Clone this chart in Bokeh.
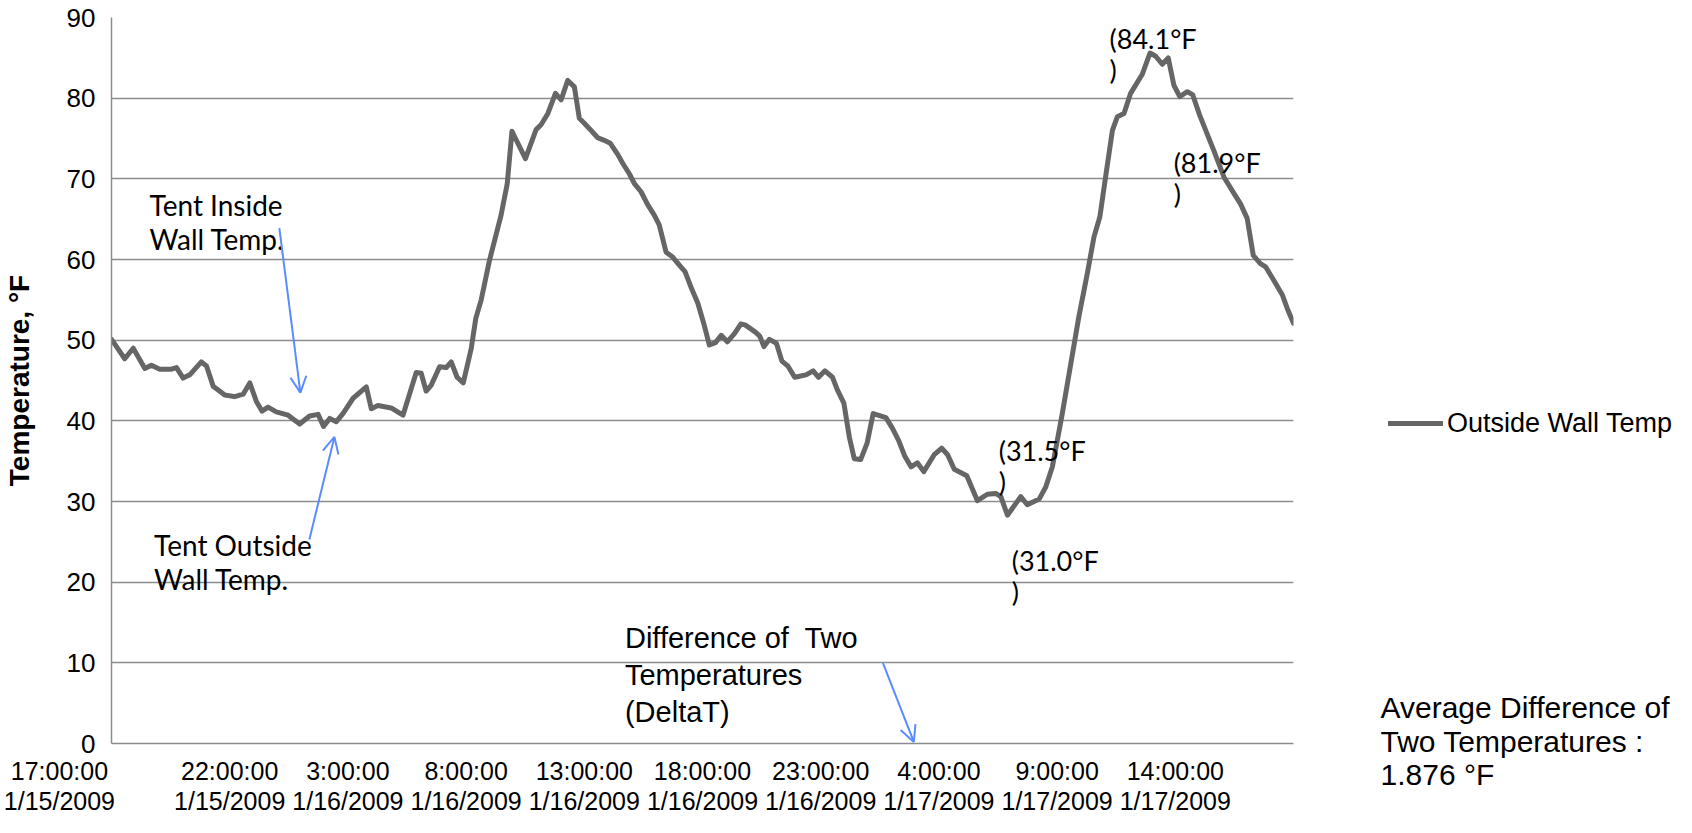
from bokeh.plotting import figure
from bokeh.layouts import row
from bokeh.models import (ColumnDataSource, Range1d, FixedTicker, Label, Arrow,
                          OpenHead, Legend, LegendItem)
from bokeh.embed import file_html
from bokeh.resources import INLINE

# ---------------- data ----------------
start_time = "2009-01-15 17:00:00"
hours_after_start = [
    0.00, 0.56, 0.92, 1.41, 1.69, 2.04, 2.54, 2.75, 3.03, 3.31,
    3.80, 4.02, 4.30, 4.79, 5.21, 5.57, 5.85, 6.13, 6.37, 6.62,
    6.97, 7.47, 7.96, 8.38, 8.74, 8.97, 9.23, 9.51, 9.79, 10.22,
    10.78, 10.99, 11.27, 11.83, 12.33, 12.89, 13.10, 13.31, 13.52, 13.88,
    14.16, 14.37, 14.62, 14.88, 15.22, 15.41, 15.64, 15.99, 16.48, 16.74,
    16.94, 17.51, 17.96, 18.17, 18.46, 18.78, 19.02, 19.30, 19.58, 19.79,
    20.00, 20.29, 20.57, 20.82, 21.10, 21.42, 21.63, 21.91, 22.12, 22.40,
    22.68, 22.96, 23.17, 23.46, 23.74, 24.02, 24.26, 24.51, 24.80, 25.05,
    25.29, 25.55, 25.79, 26.05, 26.35, 26.62, 26.80, 27.24, 27.42, 27.60,
    27.83, 28.13, 28.36, 28.61, 28.90, 29.38, 29.68, 29.91, 30.18, 30.50,
    30.71, 30.98, 31.21, 31.42, 31.69, 31.96, 32.22, 32.76, 33.03, 33.29,
    33.56, 33.82, 34.09, 34.36, 34.80, 35.12, 35.37, 35.65, 36.18, 36.63,
    37.05, 37.40, 37.62, 37.90, 38.46, 38.74, 39.24, 39.52, 39.80, 40.01,
    40.22, 40.92, 41.28, 41.56, 41.81, 42.05, 42.34, 42.55, 42.83, 43.11,
    43.61, 43.93, 44.17, 44.45, 44.70, 44.94, 45.19, 45.51, 45.74, 46.03,
    46.63, 47.06, 47.48, 47.76, 48.04, 48.30, 48.60, 48.82, 49.17, 49.53,
    49.74, 50.00,
]
outside_wall_temp_f = [
    50.1, 47.7, 49.0, 46.5, 46.9, 46.4, 46.4, 46.6, 45.3, 45.7,
    47.3, 46.8, 44.3, 43.2, 43.0, 43.3, 44.7, 42.4, 41.2, 41.7,
    41.1, 40.7, 39.6, 40.6, 40.8, 39.3, 40.3, 39.9, 40.9, 42.8,
    44.2, 41.5, 41.9, 41.6, 40.7, 46.0, 45.9, 43.7, 44.4, 46.7,
    46.6, 47.3, 45.4, 44.7, 49.0, 52.7, 55.0, 59.9, 65.5, 69.4,
    75.9, 72.5, 76.1, 76.7, 78.1, 80.6, 79.8, 82.2, 81.4, 77.5,
    76.9, 76.0, 75.1, 74.8, 74.4, 73.0, 71.9, 70.6, 69.4, 68.4,
    66.8, 65.5, 64.3, 60.9, 60.3, 59.3, 58.5, 56.6, 54.6, 52.1,
    49.4, 49.7, 50.6, 49.8, 50.8, 52.0, 51.9, 51.0, 50.5, 49.2,
    50.1, 49.6, 47.4, 46.8, 45.4, 45.7, 46.2, 45.4, 46.2, 45.4,
    43.8, 42.2, 38.0, 35.3, 35.2, 37.2, 40.9, 40.4, 39.1, 37.6,
    35.6, 34.3, 34.8, 33.7, 35.8, 36.6, 35.8, 34.0, 33.2, 30.1,
    30.9, 31.0, 30.6, 28.3, 30.6, 29.6, 30.3, 31.8, 34.3, 37.6,
    40.9, 52.9, 58.3, 62.8, 65.3, 70.2, 76.0, 77.7, 78.1, 80.6,
    83.0, 85.6, 85.2, 84.2, 85.0, 81.6, 80.2, 80.8, 80.4, 77.9,
    73.5, 70.2, 68.2, 66.9, 65.1, 60.5, 59.5, 59.1, 57.4, 55.6,
    53.9, 52.1,
]
series_name = "Outside Wall Temp"

tick_hours = [0, 5, 10, 15, 20, 25, 30, 35, 40, 45]
tick_times = ["17:00:00", "22:00:00", "3:00:00", "8:00:00", "13:00:00",
              "18:00:00", "23:00:00", "4:00:00", "9:00:00", "14:00:00"]
tick_dates = ["1/15/2009", "1/15/2009", "1/16/2009", "1/16/2009", "1/16/2009",
              "1/16/2009", "1/16/2009", "1/17/2009", "1/17/2009", "1/17/2009"]
y_ticks = [0, 10, 20, 30, 40, 50, 60, 70, 80, 90]
x_span_hours = 50

average_difference_text = ["Average Difference of", "Two Temperatures :", "1.876 \u00b0F"]

# ---------------- styling ----------------
LINE_COLOR = "#666666"
GRID_COLOR = "#8c8c8c"
BLUE = "#5a8cff"
ARIAL = "Liberation Sans"
CALIBRI = "Lato"
NBSP = "\u00a0"

W, H = 1676, 817
P_W = 1300            # main plot width; the rest holds legend + note
FRAME_L, FRAME_R, FRAME_T, FRAME_B = 110, 1293, 17, 752

p = figure(width=P_W, height=H, output_backend="svg", toolbar_location=None,
           x_range=Range1d(0, x_span_hours), y_range=Range1d(0, y_ticks[-1]),
           min_border_left=FRAME_L, min_border_right=P_W - FRAME_R,
           min_border_top=FRAME_T, min_border_bottom=H - FRAME_B)
p.outline_line_color = None
p.background_fill_color = "white"
p.border_fill_color = "white"

# grid
p.xgrid.grid_line_color = None
p.ygrid.ticker = FixedTicker(ticks=y_ticks)
p.ygrid.grid_line_color = GRID_COLOR
p.ygrid.grid_line_width = 1.5

# y axis
p.yaxis.ticker = FixedTicker(ticks=y_ticks)
p.yaxis.axis_line_color = GRID_COLOR
p.yaxis.axis_line_width = 1.5
p.yaxis.major_tick_line_color = None
p.yaxis.minor_tick_line_color = None
p.yaxis.major_tick_out = 0
p.yaxis.major_label_standoff = 16
p.yaxis.major_label_text_font = ARIAL
p.yaxis.major_label_text_font_size = "26px"
p.yaxis.major_label_text_color = "black"
p.yaxis.axis_label = "Temperature, \u00b0F"
p.yaxis.axis_label_text_font = ARIAL
p.yaxis.axis_label_text_font_style = "bold"
p.yaxis.axis_label_text_font_size = "28px"
p.yaxis.axis_label_text_color = "black"
p.yaxis.axis_label_standoff = 29

# x axis (first label is pushed left of the axis, as in the original)
p.xaxis.ticker = FixedTicker(ticks=tick_hours)
pad = NBSP * 15
overrides = {}
for i, (h, t, d) in enumerate(zip(tick_hours, tick_times, tick_dates)):
    overrides[h] = f"{t}{pad}\n{d}{pad}" if i == 0 else f"{t}\n{d}"
p.xaxis.major_label_overrides = overrides
p.xaxis.axis_line_color = GRID_COLOR
p.xaxis.axis_line_width = 1.5
p.xaxis.major_tick_line_color = None
p.xaxis.minor_tick_line_color = None
p.xaxis.major_tick_out = 0
p.xaxis.major_label_standoff = 13
p.xaxis.major_label_text_font = ARIAL
p.xaxis.major_label_text_font_size = "25px"
p.xaxis.major_label_text_line_height = 1.08
p.xaxis.major_label_text_color = "black"

# series
src = ColumnDataSource(dict(h=hours_after_start, t=outside_wall_temp_f))
r = p.line("h", "t", source=src, line_color=LINE_COLOR, line_width=5,
           line_join="round", line_cap="round")


def add_text(x, y, lines, font, size, gap):
    for i, line in enumerate(lines):
        p.add_layout(Label(x=x, y=y, x_units="data", y_units="data",
                           y_offset=-i * gap, text=line,
                           text_align="left", text_baseline="middle",
                           text_font=font, text_font_size=size,
                           text_color="black"))


add_text(1.61, 66.7, ["Tent Inside", "Wall Temp."], CALIBRI, "28px", 34)
add_text(1.80, 24.6, ["Tent Outside", "Wall Temp."], CALIBRI, "28px", 34)
add_text(21.72, 13.1, [f"Difference of{NBSP} Two", "Temperatures", "(DeltaT)"], ARIAL, "29px", 37)
add_text(37.53, 36.3, ["(31.5\u00b0F", ")"], CALIBRI, "27px", 31)
add_text(38.08, 22.7, ["(31.0\u00b0F", ")"], CALIBRI, "27px", 31)
add_text(42.22, 87.4, ["(84.1\u00b0F", ")"], CALIBRI, "27px", 31)
add_text(44.93, 72.0, ["(81.9\u00b0F", ")"], CALIBRI, "27px", 31)

# blue callout arrows
for xs, ys, xe, ye in [(7.10, 63.9, 7.99, 43.5),
                       (8.37, 25.3, 9.43, 38.0),
                       (32.63, 10.0, 33.94, 0.2)]:
    p.add_layout(Arrow(x_start=xs, y_start=ys, x_end=xe, y_end=ye,
                       line_color=BLUE, line_width=2,
                       end=OpenHead(size=16, line_color=BLUE, line_width=2)))

# ---------------- right-hand area: legend and note ----------------
S_W = W - P_W
s = figure(width=S_W, height=H, output_backend="svg", toolbar_location=None,
           x_range=Range1d(0, S_W), y_range=Range1d(0, H),
           x_axis_type=None, y_axis_type=None, min_border=0)
s.outline_line_color = None
s.background_fill_color = "white"
s.border_fill_color = "white"
s.xgrid.visible = False
s.ygrid.visible = False
for fig in (p, s):
    try:
        fig.frame_align = False
    except Exception:
        pass

# legend key (one-point line, so only its legend sample shows)
key = s.line(x=[0], y=[0], line_color=LINE_COLOR, line_width=5, line_cap="round")

LEG_H = 32
legend = Legend(items=[LegendItem(label=series_name, renderers=[key])],
                location=(1388 - P_W, H - 423 - LEG_H // 2),
                glyph_width=55, glyph_height=LEG_H, label_height=LEG_H,
                label_standoff=4, padding=0, margin=0, spacing=0,
                border_line_color=None, background_fill_alpha=0,
                label_text_font=ARIAL, label_text_font_size="27px",
                label_text_color="black")
s.add_layout(legend)

for line, yc in zip(average_difference_text, [707, 741, 774]):
    s.add_layout(Label(x=1380 - P_W, y=H - yc, x_units="data", y_units="data",
                       text=line, text_align="left", text_baseline="middle",
                       text_font=ARIAL, text_font_size="30px", text_color="black"))

layout = row(p, s, spacing=0)
open("out.html", "w").write(file_html(layout, INLINE))
